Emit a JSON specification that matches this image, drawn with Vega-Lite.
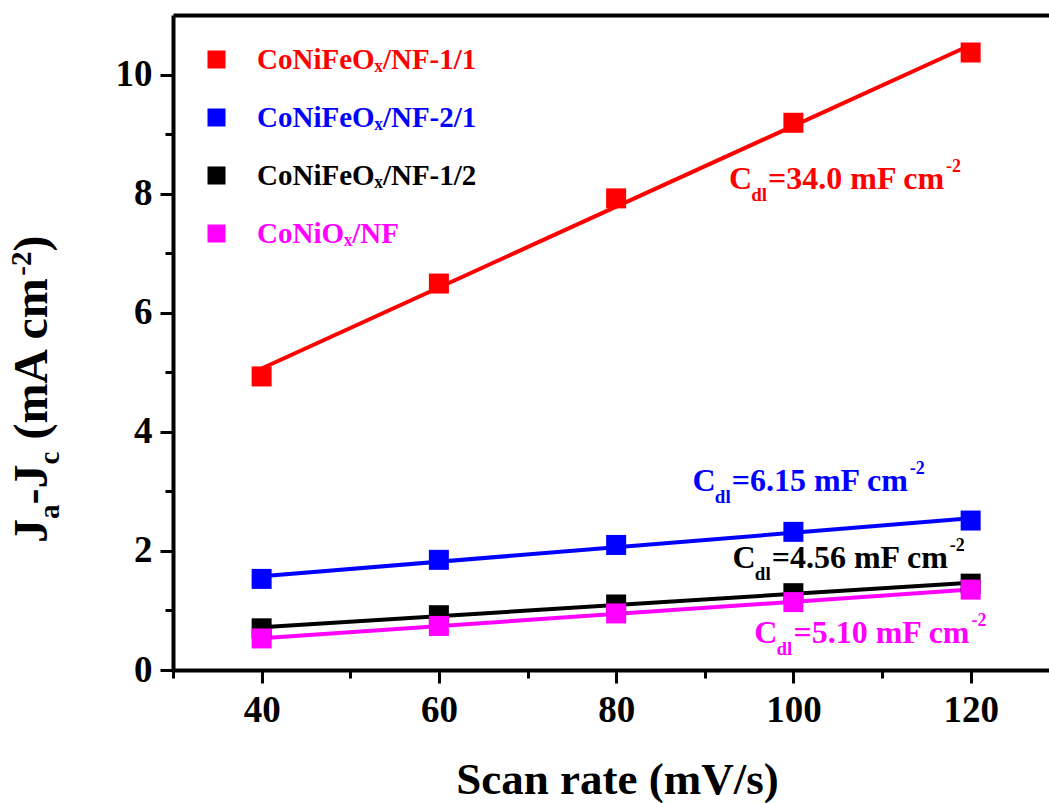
{
  "$schema": "https://vega.github.io/schema/vega-lite/v6.json",
  "width": 876,
  "height": 655,
  "autosize": {"type": "none"},
  "padding": {"left": 173, "top": 15, "right": 0, "bottom": 133},
  "background": "white",
  "config": {"view": {"stroke": null}, "font": "Liberation Serif"},
  "datasets": {
    "pts": [
      {"series": "CoNiFeOₓ/NF-1/1", "rate": 40, "j": 4.93},
      {"series": "CoNiFeOₓ/NF-1/1", "rate": 60, "j": 6.49},
      {"series": "CoNiFeOₓ/NF-1/1", "rate": 80, "j": 7.92},
      {"series": "CoNiFeOₓ/NF-1/1", "rate": 100, "j": 9.19},
      {"series": "CoNiFeOₓ/NF-1/1", "rate": 120, "j": 10.37},
      {"series": "CoNiFeOₓ/NF-2/1", "rate": 40, "j": 1.53},
      {"series": "CoNiFeOₓ/NF-2/1", "rate": 60, "j": 1.85},
      {"series": "CoNiFeOₓ/NF-2/1", "rate": 80, "j": 2.1},
      {"series": "CoNiFeOₓ/NF-2/1", "rate": 100, "j": 2.32},
      {"series": "CoNiFeOₓ/NF-2/1", "rate": 120, "j": 2.51},
      {"series": "CoNiFeOₓ/NF-1/2", "rate": 40, "j": 0.7},
      {"series": "CoNiFeOₓ/NF-1/2", "rate": 60, "j": 0.92},
      {"series": "CoNiFeOₓ/NF-1/2", "rate": 80, "j": 1.1},
      {"series": "CoNiFeOₓ/NF-1/2", "rate": 100, "j": 1.29},
      {"series": "CoNiFeOₓ/NF-1/2", "rate": 120, "j": 1.45},
      {"series": "CoNiOₓ/NF", "rate": 40, "j": 0.53},
      {"series": "CoNiOₓ/NF", "rate": 60, "j": 0.74},
      {"series": "CoNiOₓ/NF", "rate": 80, "j": 0.95},
      {"series": "CoNiOₓ/NF", "rate": 100, "j": 1.14},
      {"series": "CoNiOₓ/NF", "rate": 120, "j": 1.35}
    ],
    "ann": [
      {"series": "CoNiFeOₓ/NF-1/1", "rate": 97.14, "j": 8.07, "txt": "=34.0 mF cm"},
      {"series": "CoNiFeOₓ/NF-2/1", "rate": 93.04, "j": 3.0, "txt": "=6.15 mF cm"},
      {"series": "CoNiFeOₓ/NF-1/2", "rate": 97.55, "j": 1.71, "txt": "=4.56 mF cm"},
      {"series": "CoNiOₓ/NF", "rate": 100.0, "j": 0.45, "txt": "=5.10 mF cm"}
    ]
  },
  "data": {"name": "pts"},
  "layer": [
    {
      "transform": [{"regression": "j", "on": "rate", "groupby": ["series"], "extent": [40, 120]}],
      "mark": {"type": "line", "strokeWidth": 4},
      "encoding": {
        "x": {
          "field": "rate", "type": "quantitative",
          "scale": {"domain": [30, 128.84], "nice": false, "zero": false},
          "axis": {
            "orient": "bottom",
            "values": [30, 40, 50, 60, 70, 80, 90, 100, 110, 120],
            "labelExpr": "datum.value % 20 == 0 ? datum.label : ''",
            "tickSize": {"condition": {"test": "datum.value % 20 == 0", "value": 13}, "value": 8},
            "tickWidth": 3, "tickColor": "black",
            "domainColor": "black", "domainWidth": 4,
            "labelFont": "Liberation Serif", "labelFontWeight": "bold", "labelFontSize": 37, "labelColor": "black",
            "labelPadding": 9, "labelFlush": false, "labelOverlap": false, "grid": false,
            "title": "Scan rate (mV/s)", "titleFont": "Liberation Serif", "titleFontWeight": "bold",
            "titleFontSize": 45, "titleColor": "black", "titleX": 444, "titleY": 123,
            "titleBaseline": "alphabetic", "titleAlign": "center"
          }
        },
        "y": {
          "field": "j", "type": "quantitative",
          "scale": {"domain": [0, 11], "nice": false, "zero": false},
          "axis": {
            "orient": "left",
            "values": [0, 1, 2, 3, 4, 5, 6, 7, 8, 9, 10],
            "labelExpr": "datum.value % 2 == 0 ? datum.label : ''",
            "tickSize": {"condition": {"test": "datum.value % 2 == 0", "value": 13}, "value": 8},
            "tickWidth": 3, "tickColor": "black",
            "domainColor": "black", "domainWidth": 4,
            "labelFont": "Liberation Serif", "labelFontWeight": "bold", "labelFontSize": 37, "labelColor": "black",
            "labelPadding": 8, "labelOverlap": false, "labelFlush": false, "grid": false,
            "title": null
          }
        },
        "color": {
          "field": "series", "type": "nominal",
          "scale": {"domain": ["CoNiFeOₓ/NF-1/1", "CoNiFeOₓ/NF-2/1", "CoNiFeOₓ/NF-1/2", "CoNiOₓ/NF"], "range": ["#ff0000", "#0000ff", "#000000", "#ff00ff"]},
          "legend": null
        }
      }
    },
    {
      "mark": {"type": "point", "shape": "square", "filled": true, "size": 400, "opacity": 1},
      "encoding": {
        "x": {"field": "rate", "type": "quantitative", "axis": {"orient": "top", "labels": false, "ticks": false, "title": null, "domainWidth": 4, "domainColor": "black", "grid": false}},
        "y": {"field": "j", "type": "quantitative", "axis": null},
        "color": {
          "field": "series", "type": "nominal",
          "legend": {
            "orient": "none", "legendX": 29, "legendY": 30, "title": null,
            "symbolType": "square", "symbolSize": 324, "symbolStrokeWidth": 0, "symbolOpacity": 1,
            "labelFont": "Liberation Serif", "labelFontWeight": "bold", "labelFontSize": 29,
            "labelColor": {"expr": "scale('color', datum.value)"},
            "labelOffset": 26, "rowPadding": 28, "labelLimit": 0, "padding": 0
          }
        }
      }
    },
    {
      "data": {"name": "ann"},
      "mark": {"type": "text", "text": "C", "align": "right", "baseline": "alphabetic", "dx": -16, "fontSize": 32, "fontWeight": "bold", "font": "Liberation Serif"},
      "encoding": {
        "x": {"field": "rate", "type": "quantitative", "axis": null},
        "y": {"field": "j", "type": "quantitative", "axis": null},
        "color": {"field": "series", "type": "nominal", "legend": null}
      }
    },
    {
      "data": {"name": "ann"},
      "mark": {"type": "text", "text": "dl", "align": "right", "baseline": "alphabetic", "dx": -1, "dy": 12, "fontSize": 19, "fontWeight": "bold", "font": "Liberation Serif"},
      "encoding": {
        "x": {"field": "rate", "type": "quantitative", "axis": null},
        "y": {"field": "j", "type": "quantitative", "axis": null},
        "color": {"field": "series", "type": "nominal", "legend": null}
      }
    },
    {
      "data": {"name": "ann"},
      "mark": {"type": "text", "align": "left", "baseline": "alphabetic", "fontSize": 32, "fontWeight": "bold", "font": "Liberation Serif"},
      "encoding": {
        "x": {"field": "rate", "type": "quantitative", "axis": null},
        "y": {"field": "j", "type": "quantitative", "axis": null},
        "text": {"field": "txt"},
        "color": {"field": "series", "type": "nominal", "legend": null}
      }
    },
    {
      "data": {"name": "ann"},
      "mark": {"type": "text", "text": "-2", "align": "left", "baseline": "alphabetic", "dx": 178, "dy": -17, "fontSize": 18, "fontWeight": "bold", "font": "Liberation Serif"},
      "encoding": {
        "x": {"field": "rate", "type": "quantitative", "axis": null},
        "y": {"field": "j", "type": "quantitative", "axis": null},
        "color": {"field": "series", "type": "nominal", "legend": null}
      }
    },
    {
      "data": {"values": [{}]},
      "mark": {"type": "text", "text": "J", "angle": 270, "align": "left", "baseline": "alphabetic", "dx": 127, "dy": -126, "fontSize": 48, "fontWeight": "bold", "font": "Liberation Serif", "color": "black"},
      "encoding": {"x": {"datum": 30, "type": "quantitative", "axis": null}, "y": {"datum": 0, "type": "quantitative", "axis": null}}
    },
    {
      "data": {"values": [{}]},
      "mark": {"type": "text", "text": "a", "angle": 270, "align": "left", "baseline": "alphabetic", "dx": 151, "dy": -114, "fontSize": 29, "fontWeight": "bold", "font": "Liberation Serif", "color": "black"},
      "encoding": {"x": {"datum": 30, "type": "quantitative", "axis": null}, "y": {"datum": 0, "type": "quantitative", "axis": null}}
    },
    {
      "data": {"values": [{}]},
      "mark": {"type": "text", "text": "-J", "angle": 270, "align": "left", "baseline": "alphabetic", "dx": 165.5, "dy": -126, "fontSize": 48, "fontWeight": "bold", "font": "Liberation Serif", "color": "black"},
      "encoding": {"x": {"datum": 30, "type": "quantitative", "axis": null}, "y": {"datum": 0, "type": "quantitative", "axis": null}}
    },
    {
      "data": {"values": [{}]},
      "mark": {"type": "text", "text": "c", "angle": 270, "align": "left", "baseline": "alphabetic", "dx": 205.5, "dy": -114, "fontSize": 29, "fontWeight": "bold", "font": "Liberation Serif", "color": "black"},
      "encoding": {"x": {"datum": 30, "type": "quantitative", "axis": null}, "y": {"datum": 0, "type": "quantitative", "axis": null}}
    },
    {
      "data": {"values": [{}]},
      "mark": {"type": "text", "text": "(mA cm", "angle": 270, "align": "left", "baseline": "alphabetic", "dx": 230.4, "dy": -126, "fontSize": 48, "fontWeight": "bold", "font": "Liberation Serif", "color": "black"},
      "encoding": {"x": {"datum": 30, "type": "quantitative", "axis": null}, "y": {"datum": 0, "type": "quantitative", "axis": null}}
    },
    {
      "data": {"values": [{}]},
      "mark": {"type": "text", "text": "-2", "angle": 270, "align": "left", "baseline": "alphabetic", "dx": 394.3, "dy": -142, "fontSize": 29, "fontWeight": "bold", "font": "Liberation Serif", "color": "black"},
      "encoding": {"x": {"datum": 30, "type": "quantitative", "axis": null}, "y": {"datum": 0, "type": "quantitative", "axis": null}}
    },
    {
      "data": {"values": [{}]},
      "mark": {"type": "text", "text": ")", "angle": 270, "align": "left", "baseline": "alphabetic", "dx": 418.5, "dy": -126, "fontSize": 48, "fontWeight": "bold", "font": "Liberation Serif", "color": "black"},
      "encoding": {"x": {"datum": 30, "type": "quantitative", "axis": null}, "y": {"datum": 0, "type": "quantitative", "axis": null}}
    }
  ],
  "resolve": {"axis": {"x": "independent", "y": "independent"}, "legend": {"color": "independent"}}
}
